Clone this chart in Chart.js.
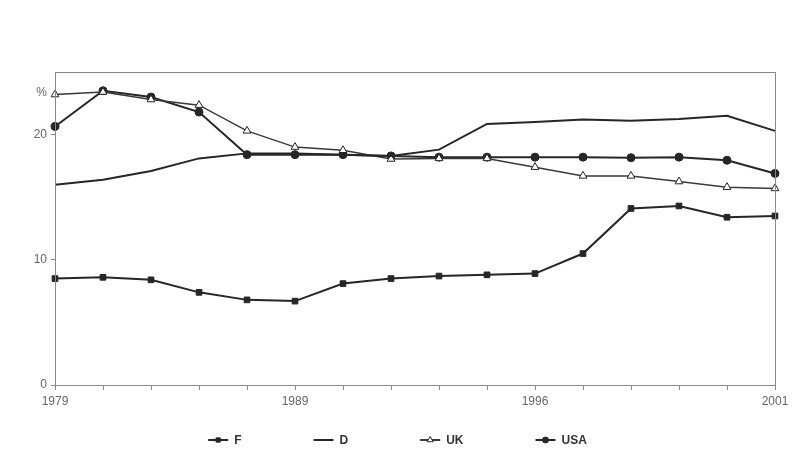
<!DOCTYPE html>
<html>
<head>
<meta charset="utf-8">
<script src="https://cdn.jsdelivr.net/npm/chart.js@4/dist/chart.umd.min.js"></script>
<style>
  html, body { margin: 0; padding: 0; background: #fff; }
  #wrap { width: 795px; height: 474px; }
</style>
</head>
<body>
<div id="wrap"><canvas id="chart"></canvas></div>
<script>
// categories (only some years are labelled on the axis)
const years = ['1979', '1981', '1983', '1985', '1987', '1989', '1991', '1992',
               '1993', '1994', '1996', '1997', '1998', '1999', '2000', '2001'];
const shownYears = ['1979', '1989', '1996', '2001'];

// series values, %
const valuesF   = [8.5, 8.6, 8.4, 7.4, 6.8, 6.7, 8.1, 8.5, 8.7, 8.8, 8.9, 10.5, 14.1, 14.3, 13.4, 13.5];
const valuesD   = [16.0, 16.4, 17.1, 18.1, 18.5, 18.5, 18.4, 18.3, 18.8, 20.85, 21.0, 21.2, 21.1, 21.25, 21.5, 20.3];
const valuesUK  = [23.2, 23.4, 22.8, 22.35, 20.3, 19.0, 18.75, 18.05, 18.1, 18.1, 17.4, 16.7, 16.7, 16.25, 15.8, 15.7];
const valuesUSA = [20.65, 23.5, 23.0, 21.8, 18.4, 18.4, 18.4, 18.3, 18.2, 18.2, 18.2, 18.2, 18.15, 18.2, 17.95, 16.9];

const yTicks = [0, 10, 20];

const ink = '#262626';
const tickGrey = '#666';
const fontFamily = "'Liberation Sans', Arial, sans-serif";

// box round the plot area, the % sign and the legend at the bottom
const extrasPlugin = {
    id: 'extras',
    afterDraw(chart) {
        const ctx = chart.ctx;
        const a = chart.chartArea;
        ctx.save();
        ctx.strokeStyle = '#8a8a8a';
        ctx.lineWidth = 1;
        ctx.strokeRect(a.left + 0.5, a.top + 0.5, a.right - a.left, a.bottom - a.top);

        ctx.fillStyle = tickGrey;
        ctx.font = '12px ' + fontFamily;
        ctx.textAlign = 'right';
        ctx.textBaseline = 'middle';
        ctx.fillText('%', a.left - 8, a.top + 21);

        // legend
        ctx.font = 'bold 12px ' + fontFamily;
        ctx.textAlign = 'left';
        const sample = 20, gap = 6, between = 72;
        const items = chart.data.datasets.map(ds => ({
            ds, w: sample + gap + ctx.measureText(ds.label).width
        }));
        const total = items.reduce((s, it) => s + it.w, 0) + between * (items.length - 1);
        let x = (chart.width - total) / 2;
        const y = 440;
        items.forEach(it => {
            const ds = it.ds;
            ctx.strokeStyle = ds.borderColor;
            ctx.lineWidth = 2;
            ctx.beginPath();
            ctx.moveTo(x, y);
            ctx.lineTo(x + sample, y);
            ctx.stroke();
            if (ds.pointRadius > 0) {
                ctx.fillStyle = ds.pointBackgroundColor;
                ctx.strokeStyle = ds.pointBorderColor;
                ctx.lineWidth = 1;
                Chart.helpers.drawPoint(ctx, {
                    pointStyle: ds.pointStyle,
                    radius: ds.pointRadius - 1,
                    borderWidth: 1
                }, x + sample / 2, y);
            }
            ctx.fillStyle = '#333';
            ctx.fillText(ds.label, x + sample + gap, y + 1);
            x += it.w + between;
        });
        ctx.restore();
    }
};

new Chart(document.getElementById('chart'), {
    type: 'line',
    data: {
        labels: years,
        datasets: [{
            label: 'F',
            data: valuesF,
            borderColor: ink,
            borderWidth: 2,
            pointStyle: 'rect',
            pointRadius: 4,
            pointBackgroundColor: ink,
            pointBorderColor: ink,
            pointBorderWidth: 1,
            tension: 0
        }, {
            label: 'D',
            data: valuesD,
            borderColor: ink,
            borderWidth: 2,
            pointRadius: 0,
            tension: 0
        }, {
            label: 'UK',
            data: valuesUK,
            borderColor: '#3a3a3a',
            borderWidth: 1.5,
            pointStyle: 'triangle',
            pointRadius: 4.5,
            pointBackgroundColor: '#fff',
            pointBorderColor: ink,
            pointBorderWidth: 1,
            tension: 0
        }, {
            label: 'USA',
            data: valuesUSA,
            borderColor: ink,
            borderWidth: 2,
            pointStyle: 'circle',
            pointRadius: 4,
            pointBackgroundColor: ink,
            pointBorderColor: ink,
            pointBorderWidth: 1,
            tension: 0
        }]
    },
    options: {
        responsive: true,
        maintainAspectRatio: false,
        animation: false,
        layout: { padding: { top: 72, right: 20, left: 0, bottom: 0 } },
        scales: {
            x: {
                offset: false,
                grid: {
                    drawOnChartArea: false,
                    drawTicks: true,
                    tickLength: 5,
                    color: '#8a8a8a'
                },
                border: { color: '#8a8a8a' },
                ticks: {
                    autoSkip: false,
                    maxRotation: 0,
                    color: tickGrey,
                    font: { size: 12, family: fontFamily },
                    padding: 4,
                    callback: function(value) {
                        const lab = this.getLabelForValue(value);
                        return shownYears.includes(lab) ? lab : '';
                    }
                },
                afterFit(scale) { scale.height = 89; }
            },
            y: {
                min: 0,
                max: 25,
                afterBuildTicks(scale) {
                    scale.ticks = yTicks.map(v => ({ value: v }));
                },
                grid: {
                    drawOnChartArea: false,
                    drawTicks: true,
                    tickLength: 4,
                    color: '#8a8a8a'
                },
                border: { color: '#8a8a8a' },
                ticks: {
                    color: tickGrey,
                    font: { size: 12, family: fontFamily },
                    padding: 4
                },
                afterFit(scale) { scale.width = 55; }
            }
        },
        plugins: {
            legend: { display: false },
            tooltip: { enabled: false }
        }
    },
    plugins: [extrasPlugin]
});
</script>
</body>
</html>
